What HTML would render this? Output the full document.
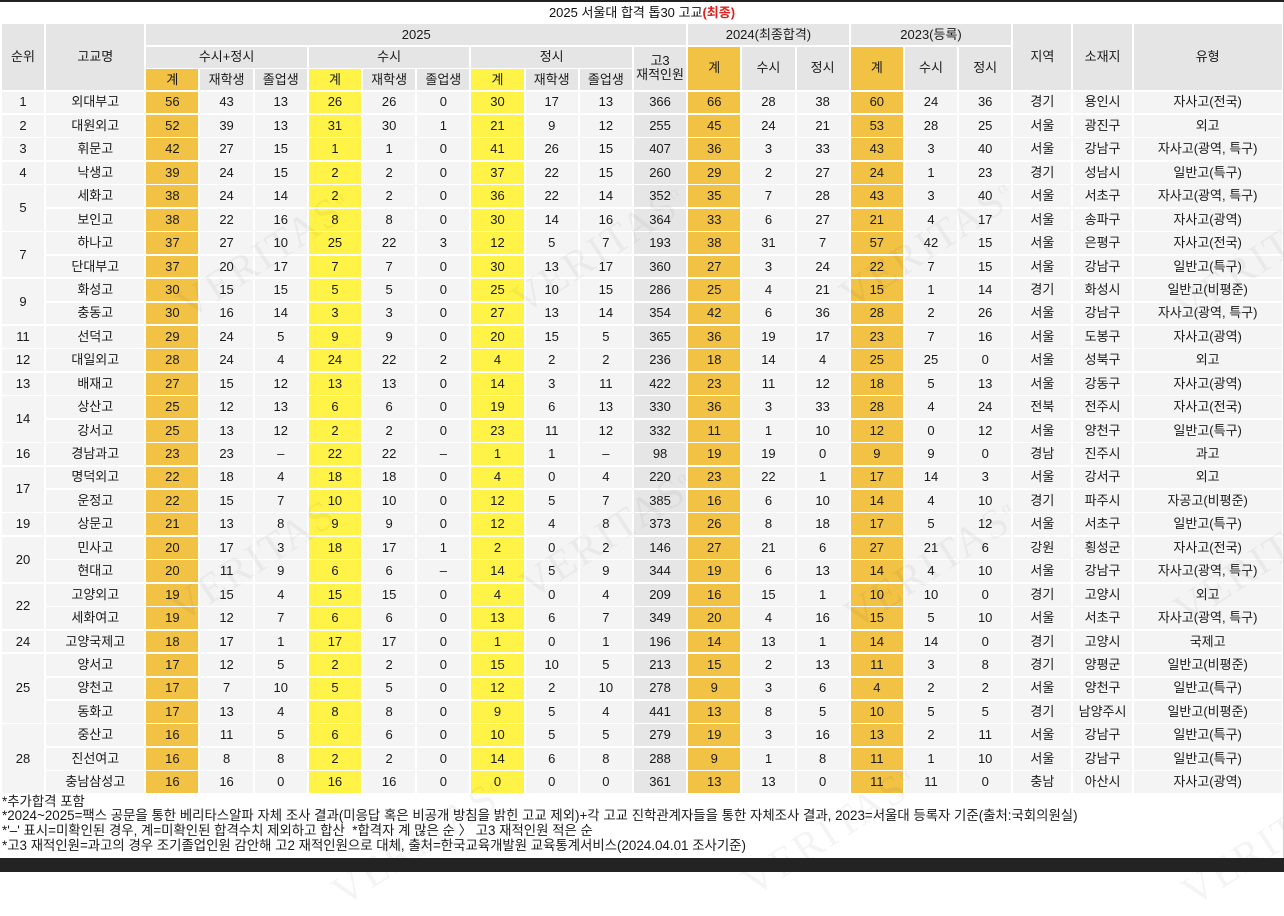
<!DOCTYPE html>
<html><head><meta charset="utf-8">
<style>
*{box-sizing:border-box}
body{margin:0;width:1284px;height:872px;background:#fff;position:relative;overflow:hidden;font-family:"Liberation Sans","Noto Sans CJK KR",sans-serif;color:#1a1a1a}
.topbar{position:absolute;left:0;top:0;width:1284px;height:2px;background:#222}
.botbar{position:absolute;left:0;top:858px;width:1284px;height:14px;background:#232323}
.redge{position:absolute;left:1283px;top:2px;width:1px;height:856px;background:#d0d0d0}
.title{position:absolute;left:0;top:3px;width:1284px;text-align:center;font-size:13px;line-height:20px;color:#111}
.title b{color:#e02020;font-weight:bold}
.t{position:absolute;left:1.7px;top:24px;display:grid;
grid-template-columns:42.6px 98px repeat(16,52.2px) 58.2px 58.2px 148px;
grid-template-rows:21px 21.2px 20.6px repeat(30,21.85px);
column-gap:2px;row-gap:1.6px;font-size:13px}
.t>div{background:#f4f4f4;display:flex;align-items:center;justify-content:center;text-align:center;white-space:nowrap;line-height:14px}
.t>div.h{background:#e5e5e5}
.t>div.o{background:#f2c244}
.t>div.y{background:#fff347}
.t>div.g{background:#e6e6e6}
.notes{position:absolute;left:2px;top:794.5px;font-size:13.4px;line-height:14.8px;color:#1a1a1a;white-space:nowrap}
.wm{position:absolute;font-family:"Liberation Serif",serif;font-size:42px;letter-spacing:2px;color:rgba(0,0,0,0.045);transform:translate(-50%,-50%) rotate(-33deg);white-space:nowrap;pointer-events:none}
.wm sup{font-size:18px}
</style></head><body>
<div class="topbar"></div>
<div class="title">2025 서울대 합격 톱30 고교<b>(최종)</b></div>
<div class="t">
<div class="h" style="grid-row:span 3">순위</div>
<div class="h" style="grid-row:span 3">고교명</div>
<div class="h" style="grid-column:span 10">2025</div>
<div class="h" style="grid-column:span 3">2024(최종합격)</div>
<div class="h" style="grid-column:span 3">2023(등록)</div>
<div class="h" style="grid-row:span 3">지역</div>
<div class="h" style="grid-row:span 3">소재지</div>
<div class="h" style="grid-row:span 3">유형</div>
<div class="h" style="grid-column:span 3">수시+정시</div>
<div class="h" style="grid-column:span 3">수시</div>
<div class="h" style="grid-column:span 3">정시</div>
<div class="h" style="grid-row:span 2">고3<br>재적인원</div>
<div class="o" style="grid-row:span 2">계</div>
<div class="h" style="grid-row:span 2">수시</div>
<div class="h" style="grid-row:span 2">정시</div>
<div class="o" style="grid-row:span 2">계</div>
<div class="h" style="grid-row:span 2">수시</div>
<div class="h" style="grid-row:span 2">정시</div>
<div class="o">계</div><div class="h">재학생</div><div class="h">졸업생</div>
<div class="y">계</div><div class="h">재학생</div><div class="h">졸업생</div>
<div class="y">계</div><div class="h">재학생</div><div class="h">졸업생</div>

<div>1</div><div>외대부고</div><div class="o">56</div><div>43</div><div>13</div><div class="y">26</div><div>26</div><div>0</div><div class="y">30</div><div>17</div><div>13</div><div class="g">366</div><div class="o">66</div><div>28</div><div>38</div><div class="o">60</div><div>24</div><div>36</div><div>경기</div><div>용인시</div><div>자사고(전국)</div>
<div>2</div><div>대원외고</div><div class="o">52</div><div>39</div><div>13</div><div class="y">31</div><div>30</div><div>1</div><div class="y">21</div><div>9</div><div>12</div><div class="g">255</div><div class="o">45</div><div>24</div><div>21</div><div class="o">53</div><div>28</div><div>25</div><div>서울</div><div>광진구</div><div>외고</div>
<div>3</div><div>휘문고</div><div class="o">42</div><div>27</div><div>15</div><div class="y">1</div><div>1</div><div>0</div><div class="y">41</div><div>26</div><div>15</div><div class="g">407</div><div class="o">36</div><div>3</div><div>33</div><div class="o">43</div><div>3</div><div>40</div><div>서울</div><div>강남구</div><div>자사고(광역, 특구)</div>
<div>4</div><div>낙생고</div><div class="o">39</div><div>24</div><div>15</div><div class="y">2</div><div>2</div><div>0</div><div class="y">37</div><div>22</div><div>15</div><div class="g">260</div><div class="o">29</div><div>2</div><div>27</div><div class="o">24</div><div>1</div><div>23</div><div>경기</div><div>성남시</div><div>일반고(특구)</div>
<div style="grid-row:span 2">5</div><div>세화고</div><div class="o">38</div><div>24</div><div>14</div><div class="y">2</div><div>2</div><div>0</div><div class="y">36</div><div>22</div><div>14</div><div class="g">352</div><div class="o">35</div><div>7</div><div>28</div><div class="o">43</div><div>3</div><div>40</div><div>서울</div><div>서초구</div><div>자사고(광역, 특구)</div>
<div>보인고</div><div class="o">38</div><div>22</div><div>16</div><div class="y">8</div><div>8</div><div>0</div><div class="y">30</div><div>14</div><div>16</div><div class="g">364</div><div class="o">33</div><div>6</div><div>27</div><div class="o">21</div><div>4</div><div>17</div><div>서울</div><div>송파구</div><div>자사고(광역)</div>
<div style="grid-row:span 2">7</div><div>하나고</div><div class="o">37</div><div>27</div><div>10</div><div class="y">25</div><div>22</div><div>3</div><div class="y">12</div><div>5</div><div>7</div><div class="g">193</div><div class="o">38</div><div>31</div><div>7</div><div class="o">57</div><div>42</div><div>15</div><div>서울</div><div>은평구</div><div>자사고(전국)</div>
<div>단대부고</div><div class="o">37</div><div>20</div><div>17</div><div class="y">7</div><div>7</div><div>0</div><div class="y">30</div><div>13</div><div>17</div><div class="g">360</div><div class="o">27</div><div>3</div><div>24</div><div class="o">22</div><div>7</div><div>15</div><div>서울</div><div>강남구</div><div>일반고(특구)</div>
<div style="grid-row:span 2">9</div><div>화성고</div><div class="o">30</div><div>15</div><div>15</div><div class="y">5</div><div>5</div><div>0</div><div class="y">25</div><div>10</div><div>15</div><div class="g">286</div><div class="o">25</div><div>4</div><div>21</div><div class="o">15</div><div>1</div><div>14</div><div>경기</div><div>화성시</div><div>일반고(비평준)</div>
<div>충동고</div><div class="o">30</div><div>16</div><div>14</div><div class="y">3</div><div>3</div><div>0</div><div class="y">27</div><div>13</div><div>14</div><div class="g">354</div><div class="o">42</div><div>6</div><div>36</div><div class="o">28</div><div>2</div><div>26</div><div>서울</div><div>강남구</div><div>자사고(광역, 특구)</div>
<div>11</div><div>선덕고</div><div class="o">29</div><div>24</div><div>5</div><div class="y">9</div><div>9</div><div>0</div><div class="y">20</div><div>15</div><div>5</div><div class="g">365</div><div class="o">36</div><div>19</div><div>17</div><div class="o">23</div><div>7</div><div>16</div><div>서울</div><div>도봉구</div><div>자사고(광역)</div>
<div>12</div><div>대일외고</div><div class="o">28</div><div>24</div><div>4</div><div class="y">24</div><div>22</div><div>2</div><div class="y">4</div><div>2</div><div>2</div><div class="g">236</div><div class="o">18</div><div>14</div><div>4</div><div class="o">25</div><div>25</div><div>0</div><div>서울</div><div>성북구</div><div>외고</div>
<div>13</div><div>배재고</div><div class="o">27</div><div>15</div><div>12</div><div class="y">13</div><div>13</div><div>0</div><div class="y">14</div><div>3</div><div>11</div><div class="g">422</div><div class="o">23</div><div>11</div><div>12</div><div class="o">18</div><div>5</div><div>13</div><div>서울</div><div>강동구</div><div>자사고(광역)</div>
<div style="grid-row:span 2">14</div><div>상산고</div><div class="o">25</div><div>12</div><div>13</div><div class="y">6</div><div>6</div><div>0</div><div class="y">19</div><div>6</div><div>13</div><div class="g">330</div><div class="o">36</div><div>3</div><div>33</div><div class="o">28</div><div>4</div><div>24</div><div>전북</div><div>전주시</div><div>자사고(전국)</div>
<div>강서고</div><div class="o">25</div><div>13</div><div>12</div><div class="y">2</div><div>2</div><div>0</div><div class="y">23</div><div>11</div><div>12</div><div class="g">332</div><div class="o">11</div><div>1</div><div>10</div><div class="o">12</div><div>0</div><div>12</div><div>서울</div><div>양천구</div><div>일반고(특구)</div>
<div>16</div><div>경남과고</div><div class="o">23</div><div>23</div><div>–</div><div class="y">22</div><div>22</div><div>–</div><div class="y">1</div><div>1</div><div>–</div><div class="g">98</div><div class="o">19</div><div>19</div><div>0</div><div class="o">9</div><div>9</div><div>0</div><div>경남</div><div>진주시</div><div>과고</div>
<div style="grid-row:span 2">17</div><div>명덕외고</div><div class="o">22</div><div>18</div><div>4</div><div class="y">18</div><div>18</div><div>0</div><div class="y">4</div><div>0</div><div>4</div><div class="g">220</div><div class="o">23</div><div>22</div><div>1</div><div class="o">17</div><div>14</div><div>3</div><div>서울</div><div>강서구</div><div>외고</div>
<div>운정고</div><div class="o">22</div><div>15</div><div>7</div><div class="y">10</div><div>10</div><div>0</div><div class="y">12</div><div>5</div><div>7</div><div class="g">385</div><div class="o">16</div><div>6</div><div>10</div><div class="o">14</div><div>4</div><div>10</div><div>경기</div><div>파주시</div><div>자공고(비평준)</div>
<div>19</div><div>상문고</div><div class="o">21</div><div>13</div><div>8</div><div class="y">9</div><div>9</div><div>0</div><div class="y">12</div><div>4</div><div>8</div><div class="g">373</div><div class="o">26</div><div>8</div><div>18</div><div class="o">17</div><div>5</div><div>12</div><div>서울</div><div>서초구</div><div>일반고(특구)</div>
<div style="grid-row:span 2">20</div><div>민사고</div><div class="o">20</div><div>17</div><div>3</div><div class="y">18</div><div>17</div><div>1</div><div class="y">2</div><div>0</div><div>2</div><div class="g">146</div><div class="o">27</div><div>21</div><div>6</div><div class="o">27</div><div>21</div><div>6</div><div>강원</div><div>횡성군</div><div>자사고(전국)</div>
<div>현대고</div><div class="o">20</div><div>11</div><div>9</div><div class="y">6</div><div>6</div><div>–</div><div class="y">14</div><div>5</div><div>9</div><div class="g">344</div><div class="o">19</div><div>6</div><div>13</div><div class="o">14</div><div>4</div><div>10</div><div>서울</div><div>강남구</div><div>자사고(광역, 특구)</div>
<div style="grid-row:span 2">22</div><div>고양외고</div><div class="o">19</div><div>15</div><div>4</div><div class="y">15</div><div>15</div><div>0</div><div class="y">4</div><div>0</div><div>4</div><div class="g">209</div><div class="o">16</div><div>15</div><div>1</div><div class="o">10</div><div>10</div><div>0</div><div>경기</div><div>고양시</div><div>외고</div>
<div>세화여고</div><div class="o">19</div><div>12</div><div>7</div><div class="y">6</div><div>6</div><div>0</div><div class="y">13</div><div>6</div><div>7</div><div class="g">349</div><div class="o">20</div><div>4</div><div>16</div><div class="o">15</div><div>5</div><div>10</div><div>서울</div><div>서초구</div><div>자사고(광역, 특구)</div>
<div>24</div><div>고양국제고</div><div class="o">18</div><div>17</div><div>1</div><div class="y">17</div><div>17</div><div>0</div><div class="y">1</div><div>0</div><div>1</div><div class="g">196</div><div class="o">14</div><div>13</div><div>1</div><div class="o">14</div><div>14</div><div>0</div><div>경기</div><div>고양시</div><div>국제고</div>
<div style="grid-row:span 3">25</div><div>양서고</div><div class="o">17</div><div>12</div><div>5</div><div class="y">2</div><div>2</div><div>0</div><div class="y">15</div><div>10</div><div>5</div><div class="g">213</div><div class="o">15</div><div>2</div><div>13</div><div class="o">11</div><div>3</div><div>8</div><div>경기</div><div>양평군</div><div>일반고(비평준)</div>
<div>양천고</div><div class="o">17</div><div>7</div><div>10</div><div class="y">5</div><div>5</div><div>0</div><div class="y">12</div><div>2</div><div>10</div><div class="g">278</div><div class="o">9</div><div>3</div><div>6</div><div class="o">4</div><div>2</div><div>2</div><div>서울</div><div>양천구</div><div>일반고(특구)</div>
<div>동화고</div><div class="o">17</div><div>13</div><div>4</div><div class="y">8</div><div>8</div><div>0</div><div class="y">9</div><div>5</div><div>4</div><div class="g">441</div><div class="o">13</div><div>8</div><div>5</div><div class="o">10</div><div>5</div><div>5</div><div>경기</div><div>남양주시</div><div>일반고(비평준)</div>
<div style="grid-row:span 3">28</div><div>중산고</div><div class="o">16</div><div>11</div><div>5</div><div class="y">6</div><div>6</div><div>0</div><div class="y">10</div><div>5</div><div>5</div><div class="g">279</div><div class="o">19</div><div>3</div><div>16</div><div class="o">13</div><div>2</div><div>11</div><div>서울</div><div>강남구</div><div>일반고(특구)</div>
<div>진선여고</div><div class="o">16</div><div>8</div><div>8</div><div class="y">2</div><div>2</div><div>0</div><div class="y">14</div><div>6</div><div>8</div><div class="g">288</div><div class="o">9</div><div>1</div><div>8</div><div class="o">11</div><div>1</div><div>10</div><div>서울</div><div>강남구</div><div>일반고(특구)</div>
<div>충남삼성고</div><div class="o">16</div><div>16</div><div>0</div><div class="y">16</div><div>16</div><div>0</div><div class="y">0</div><div>0</div><div>0</div><div class="g">361</div><div class="o">13</div><div>13</div><div>0</div><div class="o">11</div><div>11</div><div>0</div><div>충남</div><div>아산시</div><div>자사고(광역)</div>
</div>
<div class="notes">*추가합격 포함<br>*2024~2025=팩스 공문을 통한 베리타스알파 자체 조사 결과(미응답 혹은 비공개 방침을 밝힌 고교 제외)+각 고교 진학관계자들을 통한 자체조사 결과, 2023=서울대 등록자 기준(출처:국회의원실)<br>*'–' 표시=미확인된 경우, 계=미확인된 합격수치 제외하고 합산&nbsp; *합격자 계 많은 순 〉 고3 재적인원 적은 순<br>*고3 재적인원=과고의 경우 조기졸업인원 감안해 고2 재적인원으로 대체, 출처=한국교육개발원 교육통계서비스(2024.04.01 조사기준)</div>
<div class="wm" style="left:265px;top:255px">VERITAS<sup>α</sup></div>
<div class="wm" style="left:600px;top:250px">VERITAS<sup>α</sup></div>
<div class="wm" style="left:928px;top:245px">VERITAS<sup>α</sup></div>
<div class="wm" style="left:1262px;top:258px">VERITAS<sup>α</sup></div>
<div class="wm" style="left:258px;top:558px">VERITAS<sup>α</sup></div>
<div class="wm" style="left:608px;top:535px">VERITAS<sup>α</sup></div>
<div class="wm" style="left:932px;top:565px">VERITAS<sup>α</sup></div>
<div class="wm" style="left:1262px;top:560px">VERITAS<sup>α</sup></div>
<div class="wm" style="left:420px;top:842px">VERITAS<sup>α</sup></div>
<div class="wm" style="left:830px;top:832px">VERITAS<sup>α</sup></div>
<div class="wm" style="left:1270px;top:842px">VERITAS<sup>α</sup></div>
<div class="redge"></div>
<div class="botbar"></div>
</body></html>
